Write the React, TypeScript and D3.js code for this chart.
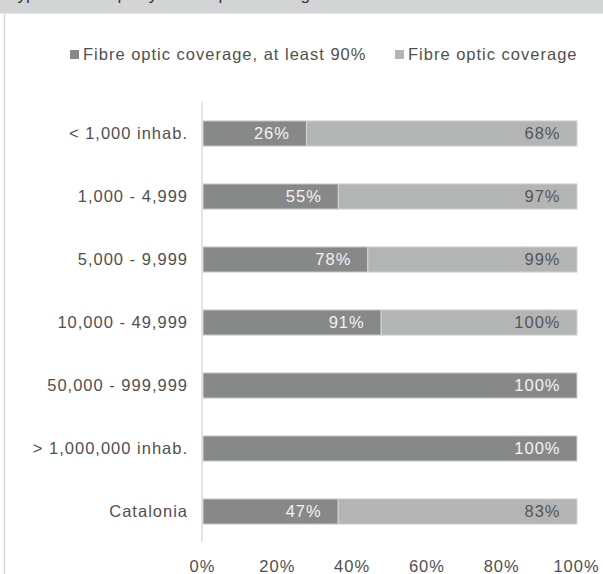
import React from "react";
import * as d3 from "d3";

const categories = [
  "< 1,000 inhab.",
  "1,000 - 4,999",
  "5,000 - 9,999",
  "10,000 - 49,999",
  "50,000 - 999,999",
  "> 1,000,000 inhab.",
  "Catalonia",
];
const atLeast90 = [26, 55, 78, 91, 100, 100, 47];
const coverage = [68, 97, 99, 100, 0, 0, 83];
const seriesNames = ["Fibre optic coverage, at least 90%", "Fibre optic coverage"];
const xTicks = [0, 0.2, 0.4, 0.6, 0.8, 1];
const title = "Type of municipality. Fibre optic coverage";

const W = 603;
const H = 574;
const FONT = "'Liberation Sans', Arial, sans-serif";
const colors = ["#878989", "#b3b5b5"];
const LS = 1.0;

export default function App() {
  const rows = categories.map((c, i) => ({ cat: c, a: atLeast90[i], b: coverage[i] }));
  const stack = d3.stack<any>().keys(["a", "b"]).offset(d3.stackOffsetExpand);
  const layers = stack(rows);

  const x = d3.scaleLinear().domain([0, 1]).range([203, 577]);
  const y = d3
    .scaleBand<string>()
    .domain(categories)
    .range([102, 543])
    .paddingInner(0.6)
    .paddingOuter(0.3);
  const bw = y.bandwidth();

  return (
    <svg
      width={W}
      height={H}
      style={{ position: "absolute", left: 0, top: 0 }}
      fontFamily={FONT}
    >
      <rect x={0} y={0} width={W} height={H} fill="#fff" />
      <rect x={0} y={0} width={W} height={13} fill="#d3d4d5" />
      <line x1={0} x2={W} y1={13.5} y2={13.5} stroke="#e8e8e8" strokeWidth={1} />
      <text x={8} y={-0.5} fontSize={17} fill="#333">
        {title}
      </text>
      <line x1={4.5} x2={4.5} y1={14} y2={H} stroke="#d8d8d8" strokeWidth={1.5} />

      {/* legend */}
      {seriesNames.map((n, i) => {
        const lx = i === 0 ? 70 : 395;
        return (
          <g key={n}>
            <rect x={lx} y={50} width={9} height={9} fill={colors[i]} />
            <text x={lx + 13} y={59.5} fontSize={16.5} letterSpacing={LS} fill="#505050">
              {n}
            </text>
          </g>
        );
      })}

      {/* axis line */}
      <line x1={202} x2={202} y1={102} y2={542} stroke="#dcdcdc" strokeWidth={1.5} />

      {/* category labels */}
      {categories.map((c) => (
        <text
          key={c}
          x={187 + LS}
          y={(y(c) as number) + bw / 2}
          dy="0.35em"
          textAnchor="end"
          fontSize={16.5}
          letterSpacing={LS}
          fill="#505050"
        >
          {c}
        </text>
      ))}

      {/* bars */}
      {layers.map((layer, li) =>
        layer.map((d, i) => {
          const x0 = x(d[0]);
          const x1 = x(d[1]);
          const w = x1 - x0;
          if (w <= 0) return null;
          const yy = y(categories[i]) as number;
          const val = li === 0 ? atLeast90[i] : coverage[i];
          return (
            <g key={`${li}-${i}`}>
              <rect
                x={x0}
                y={yy}
                width={w}
                height={bw}
                fill={colors[li]}
                stroke="#d4d4d4"
                strokeWidth={1}
              />
              <text
                x={x1 - 17.5 + LS}
                y={yy + bw / 2}
                dy="0.36em"
                textAnchor="end"
                fontSize={16.5}
                letterSpacing={LS}
                fill={li === 0 ? "#f2f2f2" : "#555555"}
              >
                {val}%
              </text>
            </g>
          );
        })
      )}

      {/* x tick labels */}
      {xTicks.map((t) => (
        <text
          key={t}
          x={x(t) - 1 + LS / 2}
          y={572}
          textAnchor="middle"
          fontSize={16.5}
          letterSpacing={LS}
          fill="#505050"
        >
          {d3.format(".0%")(t)}
        </text>
      ))}
    </svg>
  );
}
